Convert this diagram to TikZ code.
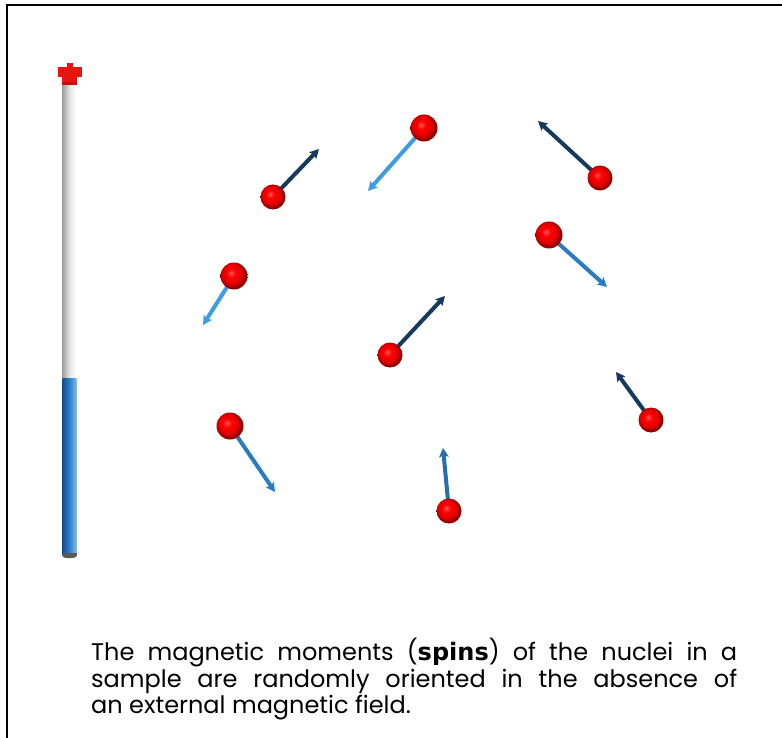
\documentclass[tikz,border=0pt]{standalone}
\usepackage{fontspec}
\setmainfont{Poppins}
\newfontfamily\spinfont{DejaVu Sans}
\usetikzlibrary{arrows.meta,backgrounds}

% red nucleus: light highlight upper left, dark rim
\pgfdeclareradialshading{nucleusball}{\pgfpoint{-6bp}{6bp}}{%
  color(0bp)=(red!65!white);
  color(8bp)=(red);
  color(18bp)=(red!88!black);
  color(25bp)=(red!55!black);
  color(50bp)=(red!55!black)}

\definecolor{spinnavy}{HTML}{163A5E}
\definecolor{spinmid}{HTML}{2A7CC2}
\definecolor{spinlight}{HTML}{3F9BE2}
\definecolor{barblue}{HTML}{2B82D0}
\definecolor{barbluedark}{HTML}{174F8A}
\definecolor{barred}{HTML}{E8140F}

\tikzset{
  nucleus/.style={circle, minimum size=#1, inner sep=0pt, shading=nucleusball},
  nucleus/.default=25pt,
  spin/.style={line width=4pt, draw=#1, line cap=round,
    -{Stealth[length=9pt,width=9.5pt,inset=1.5pt]}},
  caption/.style={anchor=base west, inner sep=0pt, font=\fontsize{24}{28}\selectfont},
  frame/.style={line width=2.6pt, black}
}

\begin{document}
\begin{tikzpicture}[x=1pt,y=-1pt]
  \useasboundingbox (0,0) rectangle (782,738);

  % frame: top and left edges
  \coordinate (ftl) at (7,5);
  \coordinate (ftr) at (782,5);
  \coordinate (fbl) at (7,738);
  \draw[frame] (ftr) -- (ftl) -- (fbl);

  % field bar: grey upper part, blue lower part, red cap
  \shade[left color=gray!75, right color=white, middle color=gray!20]
    (62.5,84) rectangle (76.5,379);
  \shade[left color=barbluedark, right color=barblue!55!white, middle color=barblue]
    (62.5,378) rectangle (76.5,555);
  \fill[black!65] (62.5,553) rectangle (76.5,556);
  \fill[black!65] (69.5,556) ellipse (7pt and 2.2pt);
  \fill[barred] (66.5,63) rectangle (73,68);
  \fill[barred] (57.5,67) rectangle (81.5,77);
  \fill[barred] (62,76) rectangle (77,85);
  \fill[red!60!black, opacity=0.35] (62,82) rectangle (77,85);

  % nuclei
  \node[nucleus=25pt] (n1) at (273,197) {};
  \node[nucleus=27pt] (n2) at (424,128) {};
  \node[nucleus=25pt] (n3) at (600,178) {};
  \node[nucleus=27pt] (n4) at (549,235) {};
  \node[nucleus=27pt] (n5) at (234,276) {};
  \node[nucleus=25pt] (n6) at (390,355) {};
  \node[nucleus=25pt] (n7) at (651,420) {};
  \node[nucleus=27pt] (n8) at (230,426) {};
  \node[nucleus=25pt] (n9) at (449,511) {};

  % tips of the magnetic moments
  \coordinate (t1) at (319,149);
  \coordinate (t2) at (368,191);
  \coordinate (t3) at (538,121);
  \coordinate (t4) at (607,287);
  \coordinate (t5) at (203,325);
  \coordinate (t6) at (445,296);
  \coordinate (t7) at (616,372);
  \coordinate (t8) at (275,492);
  \coordinate (t9) at (443,448);

  % moments sit behind the nuclei
  \begin{scope}[on background layer]
    \fill[white] (0,0) rectangle (782,738);
    \draw[spin=spinnavy]  (n1.center) -- (t1);
    \draw[spin=spinlight] (n2.center) -- (t2);
    \draw[spin=spinnavy]  (n3.center) -- (t3);
    \draw[spin=spinmid]   (n4.center) -- (t4);
    \draw[spin=spinlight] (n5.center) -- (t5);
    \draw[spin=spinnavy]  (n6.center) -- (t6);
    \draw[spin=spinnavy]  (n7.center) -- (t7);
    \draw[spin=spinmid]   (n8.center) -- (t8);
    \draw[spin=spinmid!80!spinnavy] (n9.center) -- (t9);
  \end{scope}

  % caption
  \node[caption] (cap1) at (91,660)
    {\makebox[646pt][s]{The magnetic moments ({\spinfont\bfseries spins}) of the nuclei in a}};
  \node[caption] (cap2) at (91,687)
    {\makebox[646pt][s]{sample are randomly oriented in the absence of}};
  \node[caption] (cap3) at (91,713)
    {an external magnetic field.};
\end{tikzpicture}
\end{document}
